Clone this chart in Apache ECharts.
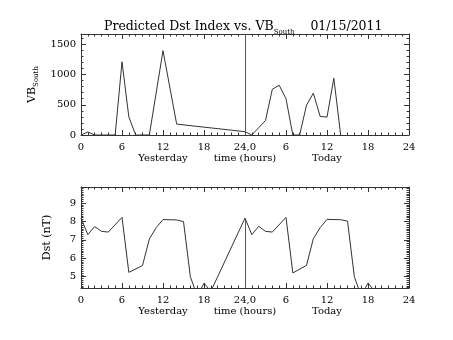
<!DOCTYPE html>
<html>
<head>
<meta charset="utf-8">
<script src="https://cdn.jsdelivr.net/npm/echarts@6/dist/echarts.min.js"></script>
<style>html,body{margin:0;padding:0;background:#fff;}#c{width:453px;height:340px;}</style>
</head>
<body>
<div id="c"></div>
<script>
// ---- data ----
const xTickLabels = ['0', '6', '12', '18', '24,0', '6', '12', '18', '24']; // every 6 h over 0..48
const xRowLabels = { 12: 'Yesterday', 24: 'time (hours)', 36: 'Today' };

// VB_South, yesterday (hour, value)
const vbYesterdayHours = [0, 1, 2, 3, 4, 5, 6, 7, 8, 9, 10, 12, 14, 24];
const vbYesterday      = [0, 50, 0, 0, 0, 0, 1210, 300, 0, 0, 0, 1395, 180, 55];
// VB_South, today (hour of today, value)
const vbTodayHours = [1, 3, 4, 5, 6, 7, 8, 9, 10, 11, 12, 13, 14];
const vbToday      = [0, 240, 757, 823, 600, 0, 0, 494, 691, 307, 296, 938, 0];

// Dst, yesterday and today (hour, value)
const dstYesterdayHours = [0, 1, 2, 3, 4, 6, 7, 9, 10, 11, 12, 14, 15, 16, 17, 18, 19];
const dstYesterday      = [8.18, 7.28, 7.72, 7.46, 7.42, 8.22, 5.23, 5.6, 7.04, 7.66, 8.1, 8.08, 7.99, 5.0, 3.95, 4.64, 4.2];
const dstTodayHours = [0, 1, 2, 3, 4, 6, 7, 9, 10, 11, 12, 14, 15, 16, 17, 18, 19];
const dstToday      = [8.18, 7.28, 7.73, 7.46, 7.42, 8.22, 5.2, 5.61, 7.06, 7.66, 8.11, 8.09, 8.02, 5.0, 3.95, 4.65, 4.2];

const vbRange = [0, 1670];
const dstRange = [4.38, 9.87];

// ---- build ----
const pairs = (hs, vs, off) => hs.map((h, i) => [h + off, vs[i]]);
const vbData = pairs(vbYesterdayHours, vbYesterday, 0).concat(pairs(vbTodayHours, vbToday, 24));
const dstData = pairs(dstYesterdayHours, dstYesterday, 0).concat(pairs(dstTodayHours, dstToday, 24));

const FONT = 'DejaVu Serif';
const INK = '#000';
const LINE = '#333';

function xAxes(gi) {
  const common = {
    gridIndex: gi, type: 'value', min: 0, max: 48, interval: 6,
    axisLine: { show: true, onZero: false, lineStyle: { color: LINE, width: 1 } },
    axisTick: { show: true, inside: true, length: 5, lineStyle: { color: LINE } },
    minorTick: { show: true, splitNumber: 6, length: 2.5, lineStyle: { color: LINE } },
    splitLine: { show: false }
  };
  return [
    Object.assign({}, common, { position: 'bottom',
      axisLabel: { color: INK, fontFamily: FONT, fontSize: 10, margin: 7,
        formatter: v => xTickLabels[Math.round(v / 6)] } }),
    Object.assign({}, common, { position: 'top', axisLabel: { show: false } }),
    { gridIndex: gi, type: 'value', min: 0, max: 48, interval: 12, position: 'bottom',
      axisLine: { show: false, onZero: false }, axisTick: { show: false }, splitLine: { show: false },
      axisLabel: { color: INK, fontFamily: FONT, fontSize: 10, margin: 18,
        formatter: v => xRowLabels[v] || '' } }
  ];
}

function yAxes(gi, range, opts, minorSplit, name) {
  const base = {
    gridIndex: gi, type: 'value', min: range[0], max: range[1],
    axisLine: { show: true, onZero: false, lineStyle: { color: LINE, width: 1 } },
    axisTick: { show: true, inside: true, length: 5, lineStyle: { color: LINE } },
    minorTick: { show: true, splitNumber: minorSplit, length: 2.5, lineStyle: { color: LINE } },
    splitLine: { show: false }
  };
  return [
    Object.assign({}, base, opts, { position: 'left',
      name: name.text, nameLocation: 'middle', nameGap: name.gap, nameRotate: 90,
      nameTextStyle: name.style,
      axisLabel: { color: INK, fontFamily: FONT, fontSize: 10, margin: 5,
        showMinLabel: opts.showMinLabel, showMaxLabel: false,
        formatter: v => String(Math.round(v * 100) / 100) } }),
    Object.assign({}, base, opts, { position: 'right', axisLabel: { show: false } })
  ];
}

const chart = echarts.init(document.getElementById('c'), null, { renderer: 'canvas' });
chart.setOption({
  animation: false,
  backgroundColor: '#fff',
  title: {
    text: '{m|Predicted Dst Index vs. VB}{s|South}{m|    01/15/2011}',
    left: 99, top: 15,
    textStyle: {
      fontWeight: 'normal',
      rich: {
        m: { fontFamily: FONT, fontSize: 12.5, fontWeight: 'normal', color: INK, lineHeight: 16, verticalAlign: 'top' },
        s: { fontFamily: FONT, fontSize: 7, fontWeight: 'normal', color: INK, lineHeight: 16, padding: [9, 0, 0, 0], verticalAlign: 'top' }
      }
    }
  },
  grid: [
    { left: 81, top: 34, width: 328, height: 101 },
    { left: 81, top: 187, width: 328, height: 101 }
  ],
  xAxis: xAxes(0).concat(xAxes(1)),
  yAxis: yAxes(0, vbRange, { interval: 500, showMinLabel: true }, 5,
      { text: '{m|VB}{s|South}', gap: 40, style: { rich: {
        m: { fontFamily: FONT, fontSize: 11, color: INK },
        s: { fontFamily: FONT, fontSize: 7, color: INK, padding: [8, 0, 0, 0] } } } })
    .concat(yAxes(1, dstRange, { splitNumber: 5, showMinLabel: false }, 10,
      { text: 'Dst (nT)', gap: 28, style: { fontFamily: FONT, fontSize: 11, color: INK } })),
  series: [
    { type: 'line', xAxisIndex: 0, yAxisIndex: 0, data: vbData, symbol: 'none', clip: true,
      lineStyle: { color: LINE, width: 1 },
      markLine: { silent: true, symbol: 'none', label: { show: false },
        lineStyle: { color: '#555', width: 1, type: 'solid' },
        data: [{ xAxis: 24 }] } },
    { type: 'line', xAxisIndex: 3, yAxisIndex: 2, data: dstData, symbol: 'none', clip: true,
      lineStyle: { color: LINE, width: 1 },
      markLine: { silent: true, symbol: 'none', label: { show: false },
        lineStyle: { color: '#555', width: 1, type: 'solid' },
        data: [[{ coord: [24, dstRange[0]] }, { coord: [24, dstToday[0]] }]] } }
  ]
});
</script>
</body>
</html>
